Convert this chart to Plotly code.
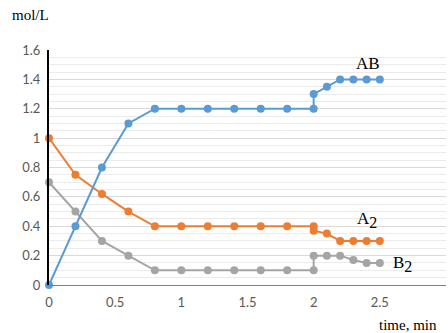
import plotly.graph_objects as go

t_ab = [0, 0.2, 0.4, 0.6, 0.8, 1.0, 1.2, 1.4, 1.6, 1.8, 2.0, 2.0, 2.1, 2.2, 2.3, 2.4, 2.5]
ab = [0, 0.4, 0.8, 1.1, 1.2, 1.2, 1.2, 1.2, 1.2, 1.2, 1.2, 1.3, 1.35, 1.4, 1.4, 1.4, 1.4]
a2 = [1.0, 0.75, 0.62, 0.5, 0.4, 0.4, 0.4, 0.4, 0.4, 0.4, 0.4, 0.37, 0.35, 0.3, 0.3, 0.3, 0.3]
b2 = [0.7, 0.5, 0.3, 0.2, 0.1, 0.1, 0.1, 0.1, 0.1, 0.1, 0.1, 0.2, 0.2, 0.2, 0.17, 0.15, 0.15]
x_ticks = [0, 0.5, 1, 1.5, 2, 2.5, 3]
x_labels = ["0", "0.5", "1", "1.5", "2", "2.5", "3"]
y_ticks = [0, 0.2, 0.4, 0.6, 0.8, 1.0, 1.2, 1.4, 1.6]
y_labels = ["0", "0.2", "0.4", "0.6", "0.8", "1", "1.2", "1.4", "1.6"]

fig = go.Figure()
for ys, col in [(b2, "#A5A5A5"), (a2, "#ED7D31"), (ab, "#5B9BD5")]:
    fig.add_trace(go.Scatter(x=t_ab, y=ys, mode="lines+markers",
                             line=dict(color=col, width=2),
                             marker=dict(color=col, size=8),
                             cliponaxis=False, showlegend=False))

serif = "Liberation Serif, Times New Roman, serif"
sub2 = "<sub><span style='font-size:16px'>2</span></sub>"
fig.add_annotation(x=2.41, y=1.51, text="AB", showarrow=False,
                   font=dict(family=serif, size=17, color="black"))
fig.add_annotation(x=2.4, y=0.44, text="A" + sub2, showarrow=False,
                   font=dict(family=serif, size=17, color="black"))
fig.add_annotation(x=2.67, y=0.145, text="B" + sub2, showarrow=False,
                   font=dict(family=serif, size=17, color="black"))
fig.add_annotation(xref="paper", yref="paper", x=-0.098, y=1.15, xanchor="left",
                   yanchor="middle", text="mol/L", showarrow=False,
                   font=dict(family=serif, size=15, color="black"))
fig.add_annotation(xref="paper", yref="paper", x=0.826, y=-0.17, xanchor="left",
                   yanchor="middle", text="time, min", showarrow=False,
                   font=dict(family=serif, size=15, color="black"))

tf = dict(family="Lato, Open Sans, sans-serif", size=13, color="#595959")
fig.update_layout(
    width=448, height=333,
    margin=dict(l=49, r=2, t=50, b=48),
    paper_bgcolor="white", plot_bgcolor="white",
    xaxis=dict(range=[0, 3], tickvals=x_ticks, ticktext=x_labels, showgrid=False,
               zeroline=False, showline=True, linecolor="#7F7F7F", linewidth=1,
               ticks="outside", ticklen=5, tickcolor="rgba(0,0,0,0)", tickfont=tf),
    yaxis=dict(range=[0, 1.6], tickvals=y_ticks, ticktext=y_labels, showgrid=True,
               gridcolor="#D9D9D9", gridwidth=1, zeroline=False, showline=True,
               linecolor="black", linewidth=2, ticks="outside", ticklen=4,
               tickcolor="rgba(0,0,0,0)",
               minor=dict(dtick=0.05, tick0=0, showgrid=True, gridcolor="#EBEBEB", gridwidth=1),
               tickfont=tf),
)
fig.write_html("out.html")
